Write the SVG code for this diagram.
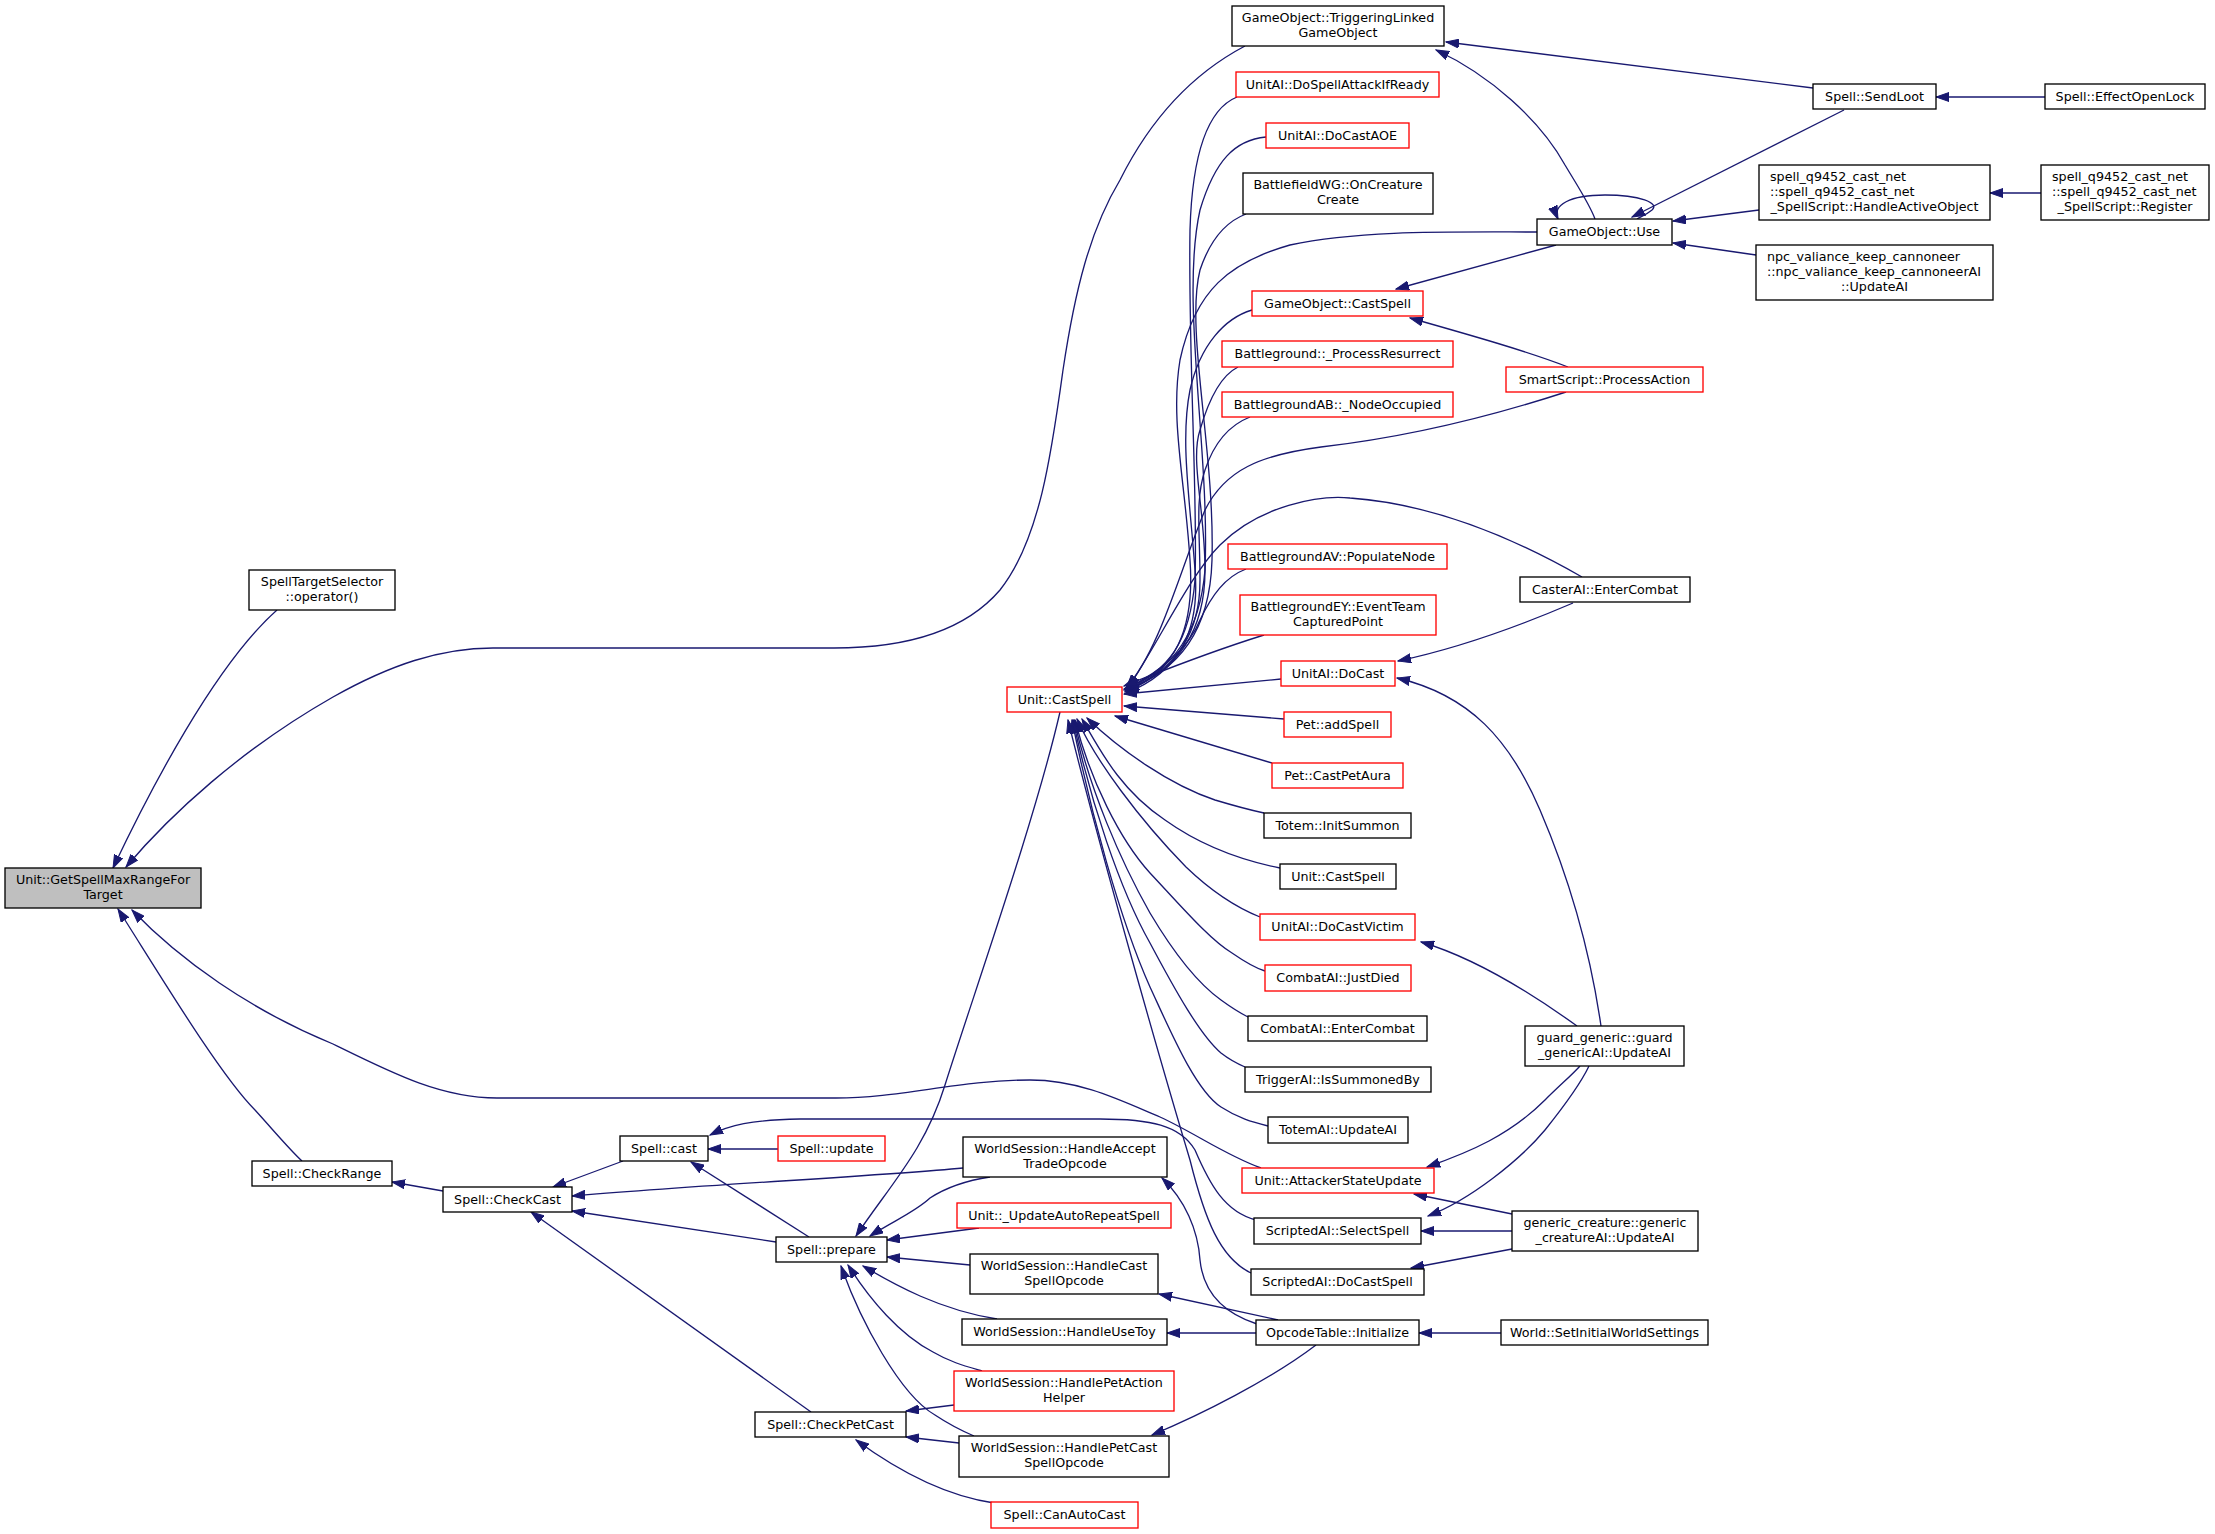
<svg xmlns="http://www.w3.org/2000/svg" width="2215" height="1534" viewBox="0 0 2215 1534">
<style>
.n rect{fill:#fff;stroke:#000;stroke-width:1.33}
.n.r rect{stroke:#ff0000}
.n.g rect{fill:#bfbfbf}
text{font-family:"DejaVu Sans","Liberation Sans",sans-serif;font-size:12.7px;fill:#000;text-anchor:middle}
text.l{text-anchor:start}
#edges path{fill:none;stroke:#191970;stroke-width:1.33;marker-start:url(#ah)}
</style>
<defs>
<marker id="ah" markerWidth="14" markerHeight="10" refX="13" refY="5" orient="auto-start-reverse" markerUnits="userSpaceOnUse">
<path d="M0,0.5 L13,5 L0,9.5 z" fill="#191970" stroke="#191970" stroke-width="1"/>
</marker>
</defs>
<rect width="2215" height="1534" fill="#fff"/>
<g id="edges">
<path d="M113,868 C150,790 215,665 277,610"/>
<path d="M126,867 C170,815 240,750 333,697 C390,665 440,648 493,648 L834,648 C920,648 970,625 1000,590 C1040,540 1052,450 1063,370 C1075,290 1090,230 1120,180 C1150,120 1190,75 1245,46"/>
<path d="M132,910 C180,960 250,1010 333,1044 C390,1072 440,1098 497,1098 L836,1098 C900,1098 960,1080 1030,1080 C1080,1080 1120,1100 1160,1117 C1195,1133 1225,1155 1261,1168"/>
<path d="M118,909 C160,975 220,1075 255,1110 C275,1132 290,1150 302,1161"/>
<path d="M392,1182 L443,1191"/>
<path d="M553,1187 L623,1161"/>
<path d="M572,1196 C700,1185 880,1176 963,1168"/>
<path d="M572,1211 L776,1242"/>
<path d="M531,1212 L811,1412"/>
<path d="M708,1149 L778,1149"/>
<path d="M691,1162 L809,1237"/>
<path d="M710,1135 C730,1125 750,1120 800,1119 L1100,1119 C1150,1119 1180,1125 1195,1150 C1210,1185 1225,1212 1256,1220"/>
<path d="M856,1236 C890,1185 925,1150 945,1085 C975,990 1035,820 1060,712"/>
<path d="M870,1236 C895,1220 915,1212 930,1198 C950,1185 970,1180 990,1177"/>
<path d="M887,1240 L979,1228"/>
<path d="M887,1257 L970,1265"/>
<path d="M863,1266 C895,1285 940,1310 997,1319"/>
<path d="M848,1265 C870,1300 900,1335 933,1352 C950,1362 965,1366 982,1371"/>
<path d="M841,1266 C860,1320 900,1395 935,1415 C950,1425 960,1430 974,1436"/>
<path d="M906,1411 L954,1405"/>
<path d="M906,1437 L959,1443"/>
<path d="M856,1440 C890,1465 940,1495 994,1503"/>
<path d="M1162,1178 C1185,1200 1198,1230 1200,1260 C1203,1290 1220,1312 1257,1324"/>
<path d="M1159,1294 L1278,1320"/>
<path d="M1167,1333 L1256,1333"/>
<path d="M1152,1435 C1200,1415 1270,1380 1316,1345"/>
<path d="M1419,1333 L1501,1333"/>
<path d="M1414,1194 L1512,1214"/>
<path d="M1421,1231 L1512,1231"/>
<path d="M1411,1268 L1512,1249"/>
<path d="M1427,1167 C1470,1152 1510,1135 1545,1100 C1560,1085 1572,1075 1580,1066"/>
<path d="M1428,1216 C1470,1200 1520,1160 1545,1130 C1565,1105 1580,1085 1589,1066"/>
<path d="M1421,942 C1465,955 1520,985 1577,1026"/>
<path d="M1397,678 C1470,695 1510,740 1540,810 C1570,880 1590,950 1601,1026"/>
<path d="M1398,661 C1450,650 1510,630 1573,603"/>
<path d="M1128,688 C1160,640 1190,575 1220,545 C1260,505 1320,495 1350,498 C1420,503 1500,530 1582,577"/>
<path d="M1124,689 C1170,672 1190,640 1195,580 C1198,500 1188,350 1190,230 C1192,160 1205,110 1237,97"/>
<path d="M1124,690 C1175,670 1200,630 1205,570 C1210,450 1180,300 1200,210 C1215,160 1235,140 1266,137"/>
<path d="M1125,691 C1180,670 1210,630 1212,560 C1215,450 1185,330 1200,270 C1210,240 1225,222 1246,214"/>
<path d="M1125,692 C1175,672 1195,630 1190,560 C1185,480 1170,420 1180,360 C1195,290 1230,262 1290,245 C1360,230 1450,232 1537,232"/>
<path d="M1126,693 C1180,672 1200,630 1195,570 C1190,500 1180,440 1190,390 C1200,345 1225,318 1252,310"/>
<path d="M1126,690 C1180,670 1205,630 1205,570 C1205,510 1190,460 1200,430 C1210,395 1222,375 1238,367"/>
<path d="M1126,690 C1180,668 1200,630 1200,580 C1200,530 1195,500 1205,470 C1215,440 1232,424 1250,417"/>
<path d="M1126,688 C1160,650 1180,570 1205,510 C1225,470 1260,455 1321,447 C1400,438 1480,420 1566,392"/>
<path d="M1125,689 C1165,670 1190,645 1200,620 C1212,595 1225,577 1246,569"/>
<path d="M1124,686 C1160,672 1200,655 1264,635"/>
<path d="M1124,694 L1281,679"/>
<path d="M1124,706 L1284,719"/>
<path d="M1115,716 L1272,763"/>
<path d="M1087,718 C1120,750 1170,785 1215,800 C1235,806 1250,810 1264,813"/>
<path d="M1082,719 C1100,750 1120,790 1165,820 C1200,845 1240,860 1280,868"/>
<path d="M1077,719 C1095,760 1140,820 1186,867 C1210,890 1235,907 1260,917"/>
<path d="M1075,720 C1090,780 1120,840 1150,873 C1180,905 1210,940 1232,953 C1245,962 1255,968 1265,971"/>
<path d="M1074,720 C1090,790 1120,860 1150,913 C1175,955 1200,985 1221,1000 C1232,1008 1240,1013 1248,1017"/>
<path d="M1073,720 C1090,800 1120,890 1150,943 C1175,990 1200,1035 1221,1053 C1230,1060 1238,1064 1245,1067"/>
<path d="M1072,720 C1090,810 1120,920 1150,987 C1170,1030 1195,1090 1221,1107 C1238,1118 1252,1122 1268,1126"/>
<path d="M1068,720 C1100,850 1160,1060 1190,1160 C1205,1220 1220,1258 1251,1273"/>
<path d="M1396,289 L1556,245"/>
<path d="M1410,318 C1470,335 1530,352 1568,367"/>
<path d="M1436,50 C1490,75 1540,120 1565,165 C1580,190 1590,205 1595,219"/>
<path d="M1446,42 L1813,88"/>
<path d="M1632,217 L1844,110"/>
<path d="M1936,97 L2045,97"/>
<path d="M1673,221 L1759,210"/>
<path d="M1990,193 L2041,193"/>
<path d="M1673,243 L1756,255"/>
<path d="M1558,219 C1552,205 1570,195 1605,195 C1640,195 1660,203 1652,210 C1646,215 1640,217 1637,219"/>
</g>
<g id="root" class="n g"><rect x="5" y="868" width="196" height="40"/><text x="103" y="883.5">Unit::GetSpellMaxRangeFor</text><text x="103" y="898.5">Target</text></g>
<g id="sts" class="n"><rect x="249" y="570" width="146" height="40"/><text x="322" y="585.5">SpellTargetSelector</text><text x="322" y="600.5">::operator()</text></g>
<g id="cr" class="n"><rect x="252" y="1161" width="140" height="25"/><text x="322" y="1178">Spell::CheckRange</text></g>
<g id="cc" class="n"><rect x="443" y="1187" width="129" height="25"/><text x="507.5" y="1204">Spell::CheckCast</text></g>
<g id="cast" class="n"><rect x="620" y="1136" width="88" height="25"/><text x="664" y="1153">Spell::cast</text></g>
<g id="upd" class="n r"><rect x="778" y="1136" width="107" height="25"/><text x="831.5" y="1153">Spell::update</text></g>
<g id="prep" class="n"><rect x="776" y="1237" width="111" height="25"/><text x="831.5" y="1254">Spell::prepare</text></g>
<g id="cpc" class="n"><rect x="755" y="1412" width="151" height="25"/><text x="830.5" y="1429">Spell::CheckPetCast</text></g>
<g id="cac" class="n r"><rect x="991" y="1502" width="147" height="26"/><text x="1064.5" y="1519">Spell::CanAutoCast</text></g>
<g id="hat" class="n"><rect x="963" y="1137" width="204" height="40"/><text x="1065" y="1152.5">WorldSession::HandleAccept</text><text x="1065" y="1167.5">TradeOpcode</text></g>
<g id="uars" class="n r"><rect x="957" y="1203" width="214" height="25"/><text x="1064" y="1220">Unit::_UpdateAutoRepeatSpell</text></g>
<g id="hcs" class="n"><rect x="970" y="1254" width="188" height="40"/><text x="1064" y="1269.5">WorldSession::HandleCast</text><text x="1064" y="1284.5">SpellOpcode</text></g>
<g id="hut" class="n"><rect x="962" y="1319" width="205" height="26"/><text x="1064.5" y="1336">WorldSession::HandleUseToy</text></g>
<g id="hpah" class="n r"><rect x="954" y="1371" width="220" height="40"/><text x="1064" y="1386.5">WorldSession::HandlePetAction</text><text x="1064" y="1401.5">Helper</text></g>
<g id="hpcs" class="n"><rect x="959" y="1436" width="210" height="41"/><text x="1064" y="1451.5">WorldSession::HandlePetCast</text><text x="1064" y="1466.5">SpellOpcode</text></g>
<g id="ucs" class="n r"><rect x="1007" y="687" width="115" height="25"/><text x="1064.5" y="704">Unit::CastSpell</text></g>
<g id="tlgo" class="n"><rect x="1232" y="6" width="212" height="40"/><text x="1338" y="21.5">GameObject::TriggeringLinked</text><text x="1338" y="36.5">GameObject</text></g>
<g id="dsair" class="n r"><rect x="1236" y="72" width="203" height="25"/><text x="1337.5" y="89">UnitAI::DoSpellAttackIfReady</text></g>
<g id="dcaoe" class="n r"><rect x="1266" y="123" width="143" height="25"/><text x="1337.5" y="140">UnitAI::DoCastAOE</text></g>
<g id="bwg" class="n"><rect x="1243" y="173" width="190" height="41"/><text x="1338" y="188.5">BattlefieldWG::OnCreature</text><text x="1338" y="203.5">Create</text></g>
<g id="gocs" class="n r"><rect x="1252" y="291" width="171" height="25"/><text x="1337.5" y="308">GameObject::CastSpell</text></g>
<g id="bgpr" class="n r"><rect x="1222" y="341" width="231" height="26"/><text x="1337.5" y="358">Battleground::_ProcessResurrect</text></g>
<g id="bgab" class="n r"><rect x="1222" y="392" width="231" height="25"/><text x="1337.5" y="409">BattlegroundAB::_NodeOccupied</text></g>
<g id="bgav" class="n r"><rect x="1228" y="544" width="219" height="25"/><text x="1337.5" y="561">BattlegroundAV::PopulateNode</text></g>
<g id="bgey" class="n r"><rect x="1240" y="595" width="196" height="40"/><text x="1338" y="610.5">BattlegroundEY::EventTeam</text><text x="1338" y="625.5">CapturedPoint</text></g>
<g id="uadc" class="n r"><rect x="1281" y="661" width="114" height="25"/><text x="1338" y="678">UnitAI::DoCast</text></g>
<g id="pas" class="n r"><rect x="1284" y="712" width="107" height="25"/><text x="1337.5" y="729">Pet::addSpell</text></g>
<g id="pcpa" class="n r"><rect x="1272" y="763" width="131" height="25"/><text x="1337.5" y="780">Pet::CastPetAura</text></g>
<g id="tis" class="n"><rect x="1264" y="813" width="147" height="25"/><text x="1337.5" y="830">Totem::InitSummon</text></g>
<g id="ucs2" class="n"><rect x="1280" y="864" width="116" height="25"/><text x="1338" y="881">Unit::CastSpell</text></g>
<g id="uadcv" class="n r"><rect x="1260" y="914" width="155" height="26"/><text x="1337.5" y="931">UnitAI::DoCastVictim</text></g>
<g id="cajd" class="n r"><rect x="1265" y="965" width="146" height="26"/><text x="1338" y="982">CombatAI::JustDied</text></g>
<g id="caec" class="n"><rect x="1248" y="1016" width="179" height="25"/><text x="1337.5" y="1033">CombatAI::EnterCombat</text></g>
<g id="tais" class="n"><rect x="1245" y="1067" width="186" height="25"/><text x="1338" y="1084">TriggerAI::IsSummonedBy</text></g>
<g id="taua" class="n"><rect x="1268" y="1117" width="140" height="26"/><text x="1338" y="1134">TotemAI::UpdateAI</text></g>
<g id="uasu" class="n r"><rect x="1242" y="1168" width="192" height="25"/><text x="1338" y="1185">Unit::AttackerStateUpdate</text></g>
<g id="sass" class="n"><rect x="1254" y="1218" width="167" height="26"/><text x="1337.5" y="1235">ScriptedAI::SelectSpell</text></g>
<g id="sadcs" class="n"><rect x="1251" y="1269" width="173" height="26"/><text x="1337.5" y="1286">ScriptedAI::DoCastSpell</text></g>
<g id="oti" class="n"><rect x="1256" y="1320" width="163" height="25"/><text x="1337.5" y="1337">OpcodeTable::Initialize</text></g>
<g id="gou" class="n"><rect x="1537" y="219" width="135" height="26"/><text x="1604.5" y="236">GameObject::Use</text></g>
<g id="sspa" class="n r"><rect x="1506" y="367" width="197" height="25"/><text x="1604.5" y="384">SmartScript::ProcessAction</text></g>
<g id="caiec" class="n"><rect x="1520" y="577" width="170" height="25"/><text x="1605" y="594">CasterAI::EnterCombat</text></g>
<g id="gg" class="n"><rect x="1525" y="1026" width="159" height="40"/><text x="1604.5" y="1041.5">guard_generic::guard</text><text x="1604.5" y="1056.5">_genericAI::UpdateAI</text></g>
<g id="gc" class="n"><rect x="1512" y="1211" width="186" height="40"/><text x="1605" y="1226.5">generic_creature::generic</text><text x="1605" y="1241.5">_creatureAI::UpdateAI</text></g>
<g id="wsiws" class="n"><rect x="1501" y="1320" width="207" height="25"/><text x="1604.5" y="1337">World::SetInitialWorldSettings</text></g>
<g id="ssl" class="n"><rect x="1813" y="84" width="123" height="25"/><text x="1874.5" y="101">Spell::SendLoot</text></g>
<g id="seol" class="n"><rect x="2045" y="84" width="160" height="25"/><text x="2125" y="101">Spell::EffectOpenLock</text></g>
<g id="sqh" class="n"><rect x="1759" y="165" width="231" height="55"/><text class="l" x="1770" y="180.5">spell_q9452_cast_net</text><text class="l" x="1770" y="195.5">::spell_q9452_cast_net</text><text x="1874.5" y="210.5">_SpellScript::HandleActiveObject</text></g>
<g id="sqr" class="n"><rect x="2041" y="165" width="168" height="55"/><text class="l" x="2052" y="180.5">spell_q9452_cast_net</text><text class="l" x="2052" y="195.5">::spell_q9452_cast_net</text><text x="2125" y="210.5">_SpellScript::Register</text></g>
<g id="npc" class="n"><rect x="1756" y="245" width="237" height="55"/><text class="l" x="1767" y="260.5">npc_valiance_keep_cannoneer</text><text class="l" x="1767" y="275.5">::npc_valiance_keep_cannoneerAI</text><text x="1874.5" y="290.5">::UpdateAI</text></g>
</svg>
